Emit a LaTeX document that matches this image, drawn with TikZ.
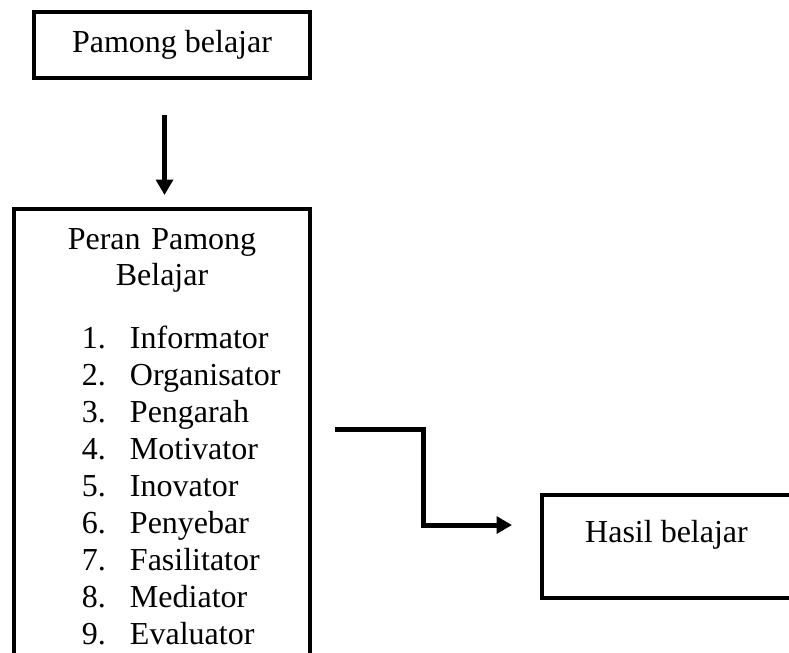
\documentclass[tikz,border=0pt]{standalone}
\usepackage{fontspec}
\setmainfont{Liberation Serif}
\usetikzlibrary{arrows.meta}

\tikzset{
  box/.style={draw, line width=3pt, inner sep=0pt, outer sep=0pt},
  arr/.style={-{Triangle[length=11.5pt,width=12.5pt]}, line width=3.75pt}
}
% one item of the list: number, then the role
\newcommand{\peranitem}[2]{\makebox[222pt][l]{\hspace{51pt}\makebox[36pt][l]{#1.}#2}}

\begin{document}
\begin{tikzpicture}[x=0.75pt,y=-0.75pt]
        \useasboundingbox (0,0) rectangle (789,653);
        \clip (0,0) rectangle (789,653);
        \begin{scope}[every node/.style={box,font=\fontsize{24}{27.7}\selectfont}]
            \node (pamong) [minimum width=207pt, minimum height=49.5pt] at (172,45) {Pamong belajar};
            \node (peran) [anchor=north west, text width=222pt, align=center, text height=30pt, text depth=500pt] at (14,209)
                {Peran Pamong\\ Belajar\\[19.5pt]
                 \peranitem{1}{Informator}\\ \peranitem{2}{Organisator}\\ \peranitem{3}{Pengarah}\\
                 \peranitem{4}{Motivator}\\ \peranitem{5}{Inovator}\\ \peranitem{6}{Penyebar}\\
                 \peranitem{7}{Fasilitator}\\ \peranitem{8}{Mediator}\\ \peranitem{9}{Evaluator}};
            \node (hasil) [anchor=north west, minimum width=186.75pt, text height=35.25pt, text depth=42pt] at (542,495) {Hasil belajar};
        \end{scope}
        \draw [arr] ([xshift=-5.6pt,yshift=-27.75pt]pamong.south) -- ([xshift=1.9pt,yshift=10.5pt]peran.north);
        \draw [arr] ([xshift=18.75pt,yshift=-165pt]peran.north east) -- ++(88,0) |- ([xshift=-22.5pt,yshift=16.1pt]hasil.west);
\end{tikzpicture}
\end{document}
